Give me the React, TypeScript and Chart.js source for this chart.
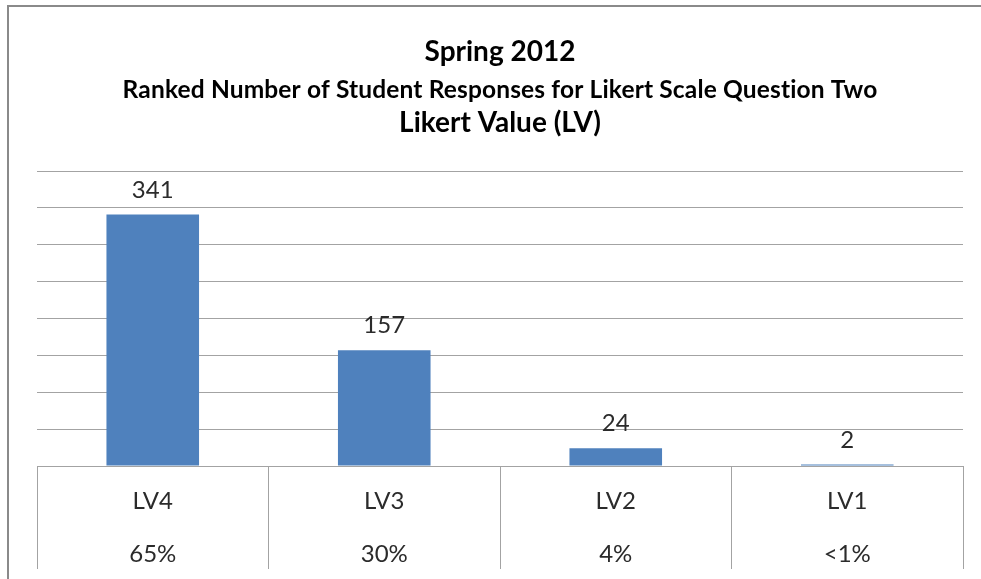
import React, { useEffect, useRef } from "react";
import { Chart, registerables } from "chart.js";

Chart.register(...registerables);

const categories = ["LV4", "LV3", "LV2", "LV1"];
const responses = [341, 157, 24, 2];
const percentages = ["65%", "30%", "4%", "<1%"];
const titleLines = [
  "Spring 2012",
  "Ranked Number of Student Responses for Likert Scale Question Two",
  "Likert Value (LV)",
];
const yMax = 400;
const yStep = 50;

const FONT = "Lato, 'Open Sans', sans-serif";
const GRID = "#a3a3a3";

const decorPlugin = {
  id: "decor",
  beforeDraw(chart: any) {
    const { ctx } = chart;
    ctx.save();
    ctx.fillStyle = "#ffffff";
    ctx.fillRect(0, 0, chart.width, chart.height);
    ctx.strokeStyle = "#8a8a8a";
    ctx.lineWidth = 2;
    ctx.strokeRect(8, 6, chart.width + 20, chart.height + 20);
    ctx.restore();
  },
  afterDraw(chart: any) {
    const { ctx, chartArea } = chart;
    const cx = (chartArea.left + chartArea.right) / 2;
    ctx.save();
    ctx.fillStyle = "#000000";
    ctx.textAlign = "center";
    ctx.textBaseline = "alphabetic";
    ctx.font = `bold 28px ${FONT}`;
    ctx.fillText(titleLines[0], cx, 61);
    ctx.font = `bold 24.5px ${FONT}`;
    (ctx as any).letterSpacing = "0.15px";
    ctx.fillText(titleLines[1], cx, 98);
    (ctx as any).letterSpacing = "0px";
    ctx.font = `bold 28px ${FONT}`;
    ctx.fillText(titleLines[2], cx, 132);

    // data labels
    const meta = chart.getDatasetMeta(0);
    ctx.font = `24px ${FONT}`;
    ctx.fillStyle = "#2b2b2b";
    meta.data.forEach((bar: any, i: number) => {
      ctx.fillText(String(responses[i]), bar.x, bar.y - 17);
    });

    // table labels under the axis
    const xs = chart.scales.x;
    categories.forEach((c, i) => {
      const x = xs.getPixelForTick(i);
      ctx.fillText(c, x, chartArea.bottom + 43);
      ctx.fillText(percentages[i], x, chartArea.bottom + 96);
    });
    ctx.restore();
  },
};

export default function App() {
  const ref = useRef<HTMLCanvasElement | null>(null);
  useEffect(() => {
    if (!ref.current) return;
    const chart = new Chart(ref.current, {
      type: "bar",
      data: {
        labels: categories,
        datasets: [
          {
            data: responses,
            backgroundColor: "#4f81bd",
            borderWidth: 0,
            barPercentage: 0.4,
            categoryPercentage: 1,
          },
        ],
      },
      options: {
        responsive: false,
        animation: false,
        layout: { padding: { left: 37, right: 18, top: 171, bottom: 10 } },
        plugins: {
          legend: { display: false },
          title: { display: false },
          tooltip: { enabled: false },
        },
        scales: {
          x: {
            grid: {
              offset: true,
              drawOnChartArea: false,
              drawTicks: true,
              tickLength: 103,
              color: GRID,
              lineWidth: 1,
            },
            border: { display: true, color: GRID, width: 1 },
            ticks: { display: false },
          },
          y: {
            min: 0,
            max: yMax,
            ticks: { display: false, stepSize: yStep },
            grid: { color: GRID, lineWidth: 1, drawTicks: false },
            border: { display: false },
          },
        },
      },
      plugins: [decorPlugin],
    });
    return () => chart.destroy();
  }, []);
  return (
    <div style={{ position: "fixed", left: 0, top: 0, width: 981, height: 579, background: "#fff" }}>
      <canvas ref={ref} width={981} height={579} style={{ display: "block", width: 981, height: 579 }} />
    </div>
  );
}
